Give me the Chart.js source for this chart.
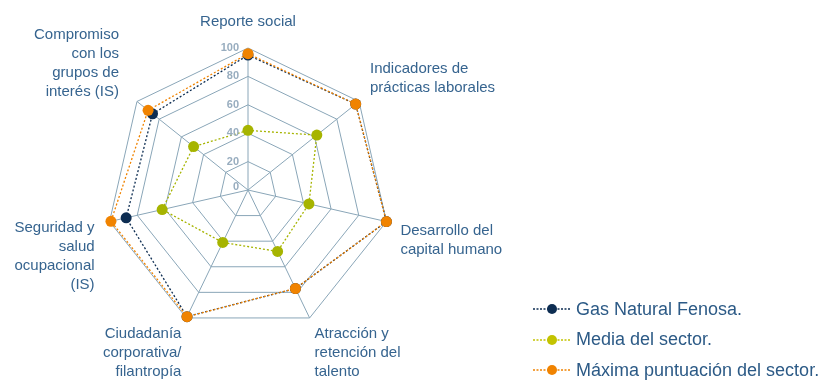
<!DOCTYPE html>
<html>
<head>
<meta charset="utf-8">
<script src="https://cdn.jsdelivr.net/npm/chart.js@4.4.0/dist/chart.umd.min.js"></script>
<style>
body { margin: 0; background: #fff; }
#wrap { position: relative; width: 838px; height: 381px; overflow: hidden; }
#legend { position: absolute; left: 533px; top: 294px; font-family: "Liberation Sans", Arial, sans-serif; font-size: 18px; color: #2c5a86; }
.item { display: flex; align-items: center; height: 30.5px; white-space: nowrap; }
.item svg { margin-right: 5px; }
</style>
</head>
<body>
<div id="wrap">
  <canvas id="chart" width="838" height="381"></canvas>
  <div id="legend"></div>
</div>
<script>
// categories (multi-line labels) and values
var categories = [
    ['Reporte social'],
    ['Indicadores de', 'prácticas laborales'],
    ['Desarrollo del', 'capital humano'],
    ['Atracción y', 'retención del', 'talento'],
    ['Ciudadanía', 'corporativa/', 'filantropía'],
    ['Seguridad y', 'salud', 'ocupacional', '(IS)'],
    ['Compromiso', 'con los', 'grupos de', 'interés (IS)']
];
var seriesNames = ['Gas Natural Fenosa.', 'Media del sector.', 'Máxima puntuación del sector.'];
var gasNatural = [95, 97, 100, 77, 99, 88, 86];
var mediaSector = [42, 62, 44, 48, 41, 62, 49];
var maximaSector = [96, 97, 100, 77, 99, 99, 90];
var tickValues = [0, 20, 40, 60, 80, 100];

var colors = {
    navy: '#0d2d52',
    green: '#a6b400',
    orange: '#f08300',
    grid: '#8aa6b8',
    tick: '#98adbf',
    label: '#36648f'
};

// where each category label sits relative to its outer vertex
var labelPlacement = [
    { align: 'center', dx: 0, dy: -26 },
    { align: 'left', dx: 11, dy: -33 },
    { align: 'left', dx: 14, dy: 9 },
    { align: 'left', dx: 5, dy: 16 },
    { align: 'right', dx: -5, dy: 16 },
    { align: 'right', dx: -15, dy: 6 },
    { align: 'right', dx: -18, dy: -67 }
];

var radarText = {
    id: 'radarText',
    afterDraw: function (chart) {
        var ctx = chart.ctx;
        var scale = chart.scales.r;
        ctx.save();
        // tick labels, just left of the vertical axis
        ctx.font = 'bold 11px "Liberation Sans", Arial, sans-serif';
        ctx.fillStyle = colors.tick;
        ctx.textAlign = 'right';
        ctx.textBaseline = 'middle';
        tickValues.forEach(function (v) {
            var d = scale.getDistanceFromCenterForValue(v);
            ctx.fillText(String(v), scale.xCenter - 9, scale.yCenter - d - (v === 0 ? 3 : 0));
        });
        // category labels
        ctx.font = '15px "Liberation Sans", Arial, sans-serif';
        ctx.fillStyle = colors.label;
        categories.forEach(function (lines, i) {
            var p = scale.getPointPosition(i, scale.drawingArea);
            var pl = labelPlacement[i];
            ctx.textAlign = pl.align;
            for (var k = 0; k < lines.length; k++) {
                ctx.fillText(lines[k], p.x + pl.dx, p.y + pl.dy + k * 19);
            }
        });
        ctx.restore();
    }
};

function makeSet(label, data, color, order) {
    return {
        label: label,
        data: data,
        borderColor: color,
        borderWidth: 1.3,
        borderDash: [2, 2],
        backgroundColor: 'transparent',
        fill: false,
        pointBackgroundColor: color,
        pointBorderColor: color,
        pointRadius: 5.5,
        pointBorderWidth: 0,
        clip: false,
        order: order
    };
}

var chart = new Chart(document.getElementById('chart').getContext('2d'), {
    type: 'radar',
    data: {
        labels: categories.map(function (c) { return c.join(' '); }),
        datasets: [
            makeSet(seriesNames[0], gasNatural, colors.navy, 1),
            makeSet(seriesNames[1], mediaSector, colors.green, 2),
            makeSet(seriesNames[2], maximaSector, colors.orange, 0)
        ]
    },
    options: {
        responsive: false,
        animation: false,
        layout: { padding: { left: 106, top: 48, right: 448, bottom: 49 } },
        plugins: { legend: { display: false }, tooltip: { enabled: false } },
        scales: {
            r: {
                min: 0,
                max: 100,
                ticks: { stepSize: 20, display: false },
                grid: { color: colors.grid, lineWidth: 1 },
                angleLines: { color: colors.grid, lineWidth: 1 },
                pointLabels: { display: false }
            }
        }
    },
    plugins: [radarText]
});

// html legend: dotted line with a dot, then the name
var legendColors = [colors.navy, '#c3c300', colors.orange];
var legend = document.getElementById('legend');
seriesNames.forEach(function (name, i) {
    var row = document.createElement('div');
    row.className = 'item';
    row.innerHTML = '<svg width="38" height="12"><line x1="0" y1="6" x2="38" y2="6" stroke="' + legendColors[i] +
        '" stroke-width="1.3" stroke-dasharray="2,1.5"/><circle cx="19" cy="6" r="5" fill="' + legendColors[i] + '"/></svg>' +
        '<span>' + name + '</span>';
    legend.appendChild(row);
});
</script>
</body>
</html>
